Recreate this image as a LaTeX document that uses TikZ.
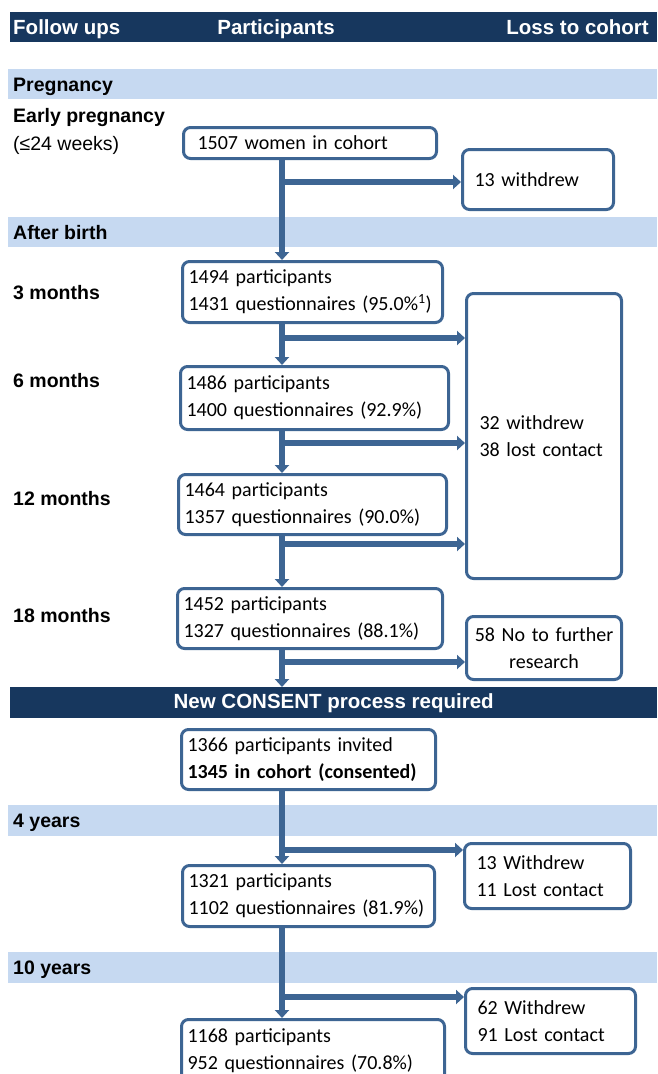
\documentclass[tikz,border=0pt]{standalone}
\usepackage{fontspec}
\setmainfont{Liberation Sans}
\newfontfamily\calib{Carlito}
\usetikzlibrary{arrows.meta,positioning}
\definecolor{navy}{HTML}{17375E}
\definecolor{bandblue}{HTML}{C6D9F1}
\definecolor{steel}{HTML}{3D6593}

\begin{document}
\begin{tikzpicture}
    [x=1pt,y=-1pt,
    %%%%%%%%%%%%%%%%%%%%%%%%%%%%%%
        pbox/.style={rectangle,rounded corners=7pt,draw=steel,line width=3pt,fill=white,
            anchor=north west,align=left,inner xsep=6pt,inner ysep=0pt,
            font=\calib\fontsize{20}{27}\selectfont},
        flow/.style={draw=steel,line width=5.5pt,-{Triangle[length=8pt,width=14pt]}},
        lab/.style={anchor=base west,inner sep=0pt,font=\fontsize{19.5}{22}\selectfont\bfseries},
        head/.style={text=white,inner sep=0pt,font=\fontsize{20.5}{24}\selectfont\bfseries},
    ]%%%%%%%%%%%%%%%%%%%%%%%%%%%%%%
\useasboundingbox (0,0) rectangle (657,1074);

% header and bands
\fill[navy] (10,12) rectangle (657,42);
\node[head,anchor=base west] (hfollow) at (13,34.5) {Follow ups};
\node[head,anchor=base] (hpart) at (276,34.5) {Participants};
\node[head,anchor=base east] (hloss) at (649,34.5) {Loss to cohort};

\foreach \ya/\yb/\lab [count=\i] in {69/99/Pregnancy,217/247/After birth,805/836/4 years,952/983/10 years}{
    \fill[bandblue] (8,\ya) rectangle (657,\yb);
    \node[lab] (band\i) at (13,{(\ya+\yb)/2+7}) {\lab};
}

\node[lab] (early) at (13,122) {Early pregnancy};
\node[lab,font=\fontsize{19.5}{22}\selectfont] (weeks) at (13,150) {(≤24 weeks)};
\node[lab] (m3) at (13,299) {3 months};
\node[lab] (m6) at (13,387) {6 months};
\node[lab] (m12) at (13,505) {12 months};
\node[lab] (m18) at (13,622) {18 months};

% participants
\node[pbox,inner xsep=14pt,text width=225pt,minimum height=31pt] (b1) at (182,126) {1507 women in cohort};
\node[pbox,text width=248pt,minimum height=61pt] (b2) at (181,260) {1494 participants\\1431 questionnaires (95.0\%\textsuperscript{1})};
\node[pbox,text width=256pt,minimum height=63pt] (b3) at (179,365) {1486 participants\\1400 questionnaires (92.9\%)};
\node[pbox,text width=256pt,minimum height=60pt] (b4) at (177,473) {1464 participants\\1357 questionnaires (90.0\%)};
\node[pbox,text width=253pt,minimum height=60pt] (b5) at (176,587) {1452 participants\\1327 questionnaires (88.1\%)};
\node[pbox,text width=242pt,minimum height=60pt] (b6) at (180,728) {1366 participants invited\\\textbf{1345 in cohort (consented)}};
\node[pbox,text width=240pt,minimum height=61pt] (b7) at (181,864) {1321 participants\\1102 questionnaires (81.9\%)};
\node[pbox,text width=251pt,minimum height=62pt] (b8) at (180,1018) {1168 participants\\952 questionnaires (70.8\%)};

\node[fill=navy,minimum width=647pt,minimum height=31pt,anchor=north west,inner sep=0pt,
    text=white,font=\fontsize{20.5}{24}\selectfont\bfseries] (consent) at (10,687) {New CONSENT process required};

% loss to cohort
\node[pbox,inner xsep=12pt,text width=127pt,minimum height=60pt] (w1) at (461,148) {13 withdrew};
\node[pbox,inner xsep=13pt,text width=129pt,minimum height=285pt] (lost) at (465,292) {32 withdrew\\38 lost contact};
\node[pbox,align=center,text width=143pt,minimum height=63pt] (nofur) at (465,615) {58 No to further\\research};
\node[pbox,inner xsep=12pt,text width=142pt,minimum height=65pt] (w2) at (463,842) {13 Withdrew\\11 Lost contact};
\node[pbox,inner xsep=12pt,text width=146pt,minimum height=65pt] (w3) at (464,987) {62 Withdrew\\91 Lost contact};

% arrows
\coordinate (tx) at (282,0);
\foreach \a/\b in {b1/b2,b2/b3,b3/b4,b4/b5,b5/consent,b6/b7,b7/b8}
    \draw[flow] (\a.south -| tx) -- (\b.north -| tx);
\foreach \y/\t [count=\i] in {182/w1,338/lost,443/lost,544/lost,662/nofur,850/w2,997/w3}{
    \coordinate (j\i) at (282,\y);
    \draw[flow] (j\i) -- (j\i -| \t.west);
}
\end{tikzpicture}
\end{document}
